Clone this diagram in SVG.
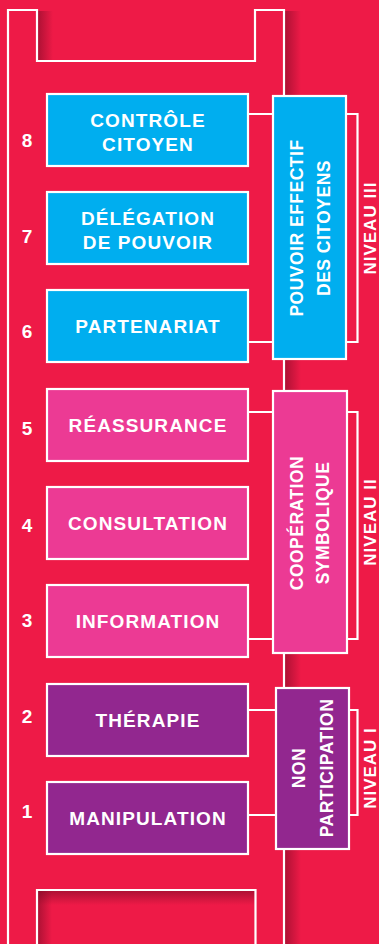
<svg xmlns="http://www.w3.org/2000/svg" width="379" height="944" viewBox="0 0 379 944">
<defs>
<linearGradient id="shR" x1="0" y1="0" x2="1" y2="0">
<stop offset="0" stop-color="#7a0a25" stop-opacity="0.55"/>
<stop offset="1" stop-color="#7a0a25" stop-opacity="0"/>
</linearGradient>
<linearGradient id="shD" x1="0" y1="0" x2="0" y2="1">
<stop offset="0" stop-color="#7a0a25" stop-opacity="0.55"/>
<stop offset="1" stop-color="#7a0a25" stop-opacity="0"/>
</linearGradient>
<style>
.ln{fill:none;stroke:#fff;stroke-width:2.2}
.box{stroke:#fff;stroke-width:2.2}
.b{fill:#00AEEF}.p{fill:#EC3A94}.v{fill:#92278F}
.t{font-family:"Liberation Sans",Arial,sans-serif;font-weight:bold;font-size:19px;fill:#fff;text-anchor:middle;letter-spacing:1.1px}
.n{font-family:"Liberation Sans",Arial,sans-serif;font-weight:bold;font-size:19px;fill:#fff;text-anchor:middle}
.g{font-family:"Liberation Sans",Arial,sans-serif;font-weight:bold;font-size:17.5px;fill:#fff;text-anchor:middle;letter-spacing:0.5px}
.nv{font-family:"Liberation Sans",Arial,sans-serif;font-weight:bold;font-size:17px;fill:#fff;text-anchor:middle;letter-spacing:1px}
</style>
</defs>
<rect width="379" height="944" fill="#EE1A47"/>
<rect x="38" y="11" width="15" height="50" fill="url(#shR)"/>
<rect x="285" y="11" width="16" height="933" fill="url(#shR)"/>
<rect x="38" y="891" width="217" height="14" fill="url(#shD)"/>
<rect x="38" y="891" width="14" height="53" fill="url(#shR)"/>
<g id="ladder">
<path class="ln" d="M8,944 V10 H37 V61 H255 V10 H284 V944"/>
<path class="ln" d="M37,944 V890 H255.5 V944"/>
</g>
<g id="connectors">
<path class="ln" d="M249,114 H273 M249,342 H273 M346,114 H357.5 V342 H346"/>
<path class="ln" d="M249,412 H273 M249,639 H273 M347,412 H357.5 V639 H347"/>
<path class="ln" d="M249,710 H276 M249,815 H276 M349,710 H357.5 V815 H349"/>
</g>
<g id="step8"><rect class="box b" x="47" y="94" width="201" height="72"/><text class="t" x="148" y="127">CONTRÔLE</text><text class="t" x="148" y="151">CITOYEN</text><text class="n" x="27" y="147">8</text></g>
<g id="step7"><rect class="box b" x="47" y="192" width="201" height="72"/><text class="t" x="148" y="225">DÉLÉGATION</text><text class="t" x="148" y="249">DE POUVOIR</text><text class="n" x="27" y="243">7</text></g>
<g id="step6"><rect class="box b" x="47" y="290" width="201" height="72"/><text class="t" x="148" y="333">PARTENARIAT</text><text class="n" x="27" y="338">6</text></g>
<g id="step5"><rect class="box p" x="47" y="389" width="201" height="72"/><text class="t" x="148" y="432">RÉASSURANCE</text><text class="n" x="27" y="435">5</text></g>
<g id="step4"><rect class="box p" x="47" y="487" width="201" height="72"/><text class="t" x="148" y="530">CONSULTATION</text><text class="n" x="27" y="532">4</text></g>
<g id="step3"><rect class="box p" x="47" y="585" width="201" height="72"/><text class="t" x="148" y="628">INFORMATION</text><text class="n" x="27" y="627">3</text></g>
<g id="step2"><rect class="box v" x="47" y="684" width="201" height="72"/><text class="t" x="148" y="727">THÉRAPIE</text><text class="n" x="27" y="723">2</text></g>
<g id="step1"><rect class="box v" x="47" y="782" width="201" height="72"/><text class="t" x="148" y="825">MANIPULATION</text><text class="n" x="27" y="818">1</text></g>
<g id="group3"><rect class="box b" x="273" y="96" width="73" height="263"/>
<text class="g" transform="translate(303,228) rotate(-90)">POUVOIR EFFECTIF</text>
<text class="g" transform="translate(330,228) rotate(-90)">DES CITOYENS</text>
<text class="nv" transform="translate(376,228) rotate(-90)">NIVEAU III</text></g>
<g id="group2"><rect class="box p" x="273" y="391" width="74" height="262"/>
<text class="g" transform="translate(303,523) rotate(-90)">COOPÉRATION</text>
<text class="g" transform="translate(329,523) rotate(-90)">SYMBOLIQUE</text>
<text class="nv" transform="translate(376,522) rotate(-90)">NIVEAU II</text></g>
<g id="group1"><rect class="box v" x="276" y="688" width="73" height="161"/>
<text class="g" transform="translate(305,768) rotate(-90)">NON</text>
<text class="g" transform="translate(333,768) rotate(-90)">PARTICIPATION</text>
<text class="nv" transform="translate(376,768) rotate(-90)">NIVEAU I</text></g>
</svg>
